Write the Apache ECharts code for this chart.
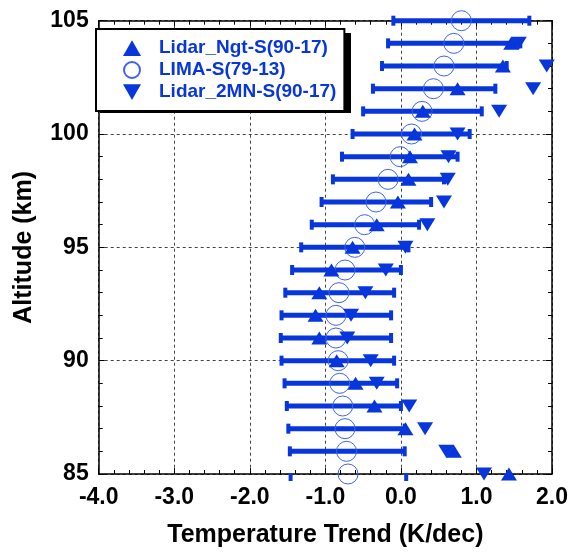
<!DOCTYPE html>
<html>
<head>
<meta charset="utf-8">
<script src="https://cdn.jsdelivr.net/npm/echarts@6/dist/echarts.min.js"></script>
<style>
html,body{margin:0;padding:0;background:#fff;}
#c{width:571px;height:554px;}
</style>
</head>
<body>
<div id="c"></div>
<script>
// ---- data ----
const altitudes = [105,104,103,102,101,100,99,98,97,96,95,94,93,92,91,90,89,88,87,86,85];
const limaTrend = [0.80,0.70,0.57,0.43,0.28,0.14,-0.01,-0.17,-0.33,-0.48,-0.61,-0.74,-0.82,-0.86,-0.86,-0.83,-0.81,-0.77,-0.74,-0.72,-0.70];
const limaLow   = [-0.10,-0.17,-0.25,-0.37,-0.50,-0.64,-0.78,-0.90,-1.05,-1.18,-1.32,-1.44,-1.53,-1.58,-1.59,-1.58,-1.54,-1.51,-1.49,-1.47,-1.46];
const limaHigh  = [1.70,1.58,1.40,1.25,1.07,0.91,0.75,0.57,0.40,0.24,0.10,0.00,-0.09,-0.13,-0.13,-0.09,-0.05,0.00,0.05,0.05,0.07];
const ngtTrend  = [null,1.46,1.35,0.75,0.29,0.18,0.12,0.10,-0.04,-0.32,-0.64,-0.92,-1.08,-1.13,-1.08,-0.85,-0.60,-0.35,0.06,0.70,1.43];
const mnTrend   = [null,1.56,1.93,1.75,1.30,0.75,0.63,0.62,0.57,0.35,0.06,-0.20,-0.47,-0.66,-0.71,-0.40,-0.32,0.11,0.32,0.60,1.10];
const seriesNames = ['Lidar_Ngt-S(90-17)','LIMA-S(79-13)','Lidar_2MN-S(90-17)'];
const xTitle = 'Temperature Trend (K/dec)';
const yTitle = 'Altitude (km)';

const BLUE = '#0636dc';
const FONT = '"Liberation Sans", Arial, Helvetica, sans-serif';

const pairs = (xs) => xs.map((v,i) => v === null ? null : [v, altitudes[i]]).filter(d => d);
const errData = altitudes.map((a,i) => [limaLow[i], limaHigh[i], a]);

const chart = echarts.init(document.getElementById('c'));

const axisCommon = {
  axisLine: {show: true, onZero: false, lineStyle: {color: '#000', width: 1.5}},
  axisTick: {show: true, inside: true, length: 6, lineStyle: {color: '#000', width: 1}},
  minorTick: {show: true, splitNumber: 5, length: 4, lineStyle: {color: '#000', width: 1}},
};

const TRI_UP = 'path://M8,0 L16,14 L0,14 Z';
const TRI_DOWN = 'path://M0,0 L16,0 L8,14 Z';

chart.setOption({
  animation: false,
  backgroundColor: '#fff',
  grid: {left: 98.7, right: 16.3, top: 20.7, bottom: 80},
  xAxis: [
    Object.assign({
      type: 'value', min: -4, max: 2, interval: 1, position: 'bottom',
      axisLabel: {formatter: v => v.toFixed(1), color: '#000', fontFamily: FONT, fontWeight: 'bold', fontSize: 23, margin: 12},
      splitLine: {show: true, lineStyle: {color: '#444', width: 1, type: [3,3]}},
      name: xTitle, nameLocation: 'middle', nameGap: 49,
      nameTextStyle: {color: '#000', fontFamily: FONT, fontWeight: 'bold', fontSize: 25}
    }, axisCommon),
    Object.assign({
      type: 'value', min: -4, max: 2, interval: 1, position: 'top',
      axisLabel: {show: false}, splitLine: {show: false}
    }, axisCommon)
  ],
  yAxis: [
    Object.assign({
      type: 'value', min: 85, max: 105, interval: 5, position: 'left',
      axisLabel: {color: '#000', fontFamily: FONT, fontWeight: 'bold', fontSize: 23, margin: 10},
      splitLine: {show: true, lineStyle: {color: '#444', width: 1, type: [3,3]}},
      name: yTitle, nameLocation: 'middle', nameGap: 62, nameRotate: 90,
      nameTextStyle: {color: '#000', fontFamily: FONT, fontWeight: 'bold', fontSize: 25}
    }, axisCommon),
    Object.assign({
      type: 'value', min: 85, max: 105, interval: 5, position: 'right',
      axisLabel: {show: false}, splitLine: {show: false}
    }, axisCommon)
  ],
  graphic: [
    {type: 'rect', z: 3, left: 100, top: 33, shape: {width: 251, height: 80}, style: {fill: '#000'}}
  ],
  legend: {
    left: 96, top: 29, orient: 'vertical', z: 6,
    data: [
      {name: seriesNames[0], icon: TRI_UP},
      {name: seriesNames[1]},
      {name: seriesNames[2], icon: TRI_DOWN}
    ],
    itemWidth: 18, itemHeight: 16, itemGap: 2,
    padding: [9, 8, 9, 27],
    backgroundColor: '#fff', borderColor: '#000', borderWidth: 2,
    textStyle: {color: BLUE, fontFamily: FONT, fontWeight: 'bold', fontSize: 19, lineHeight: 20, padding: [0,0,0,13]}
  },
  series: [
    {
      type: 'custom', name: 'err', xAxisIndex: 0, yAxisIndex: 0,
      data: errData, z: 2,
      renderItem: function (params, api) {
        const lo = api.coord([api.value(0), api.value(2)]);
        const hi = api.coord([api.value(1), api.value(2)]);
        const cs = params.coordSys;
        const children = [];
        const onEdge = Math.abs(lo[1] - (cs.y + cs.height)) < 1;
        if (!onEdge) {
          children.push({type: 'line', shape: {x1: lo[0], y1: lo[1], x2: hi[0], y2: hi[1]},
            style: {stroke: BLUE, lineWidth: 5}});
        }
        const capW = 4, capH = 10;
        const capY = onEdge ? lo[1] - 1 : lo[1] - capH/2;
        const ch = onEdge ? 8 : capH;
        children.push({type: 'rect', shape: {x: lo[0] - capW/2, y: capY, width: capW, height: ch}, style: {fill: BLUE}});
        children.push({type: 'rect', shape: {x: hi[0] - capW/2, y: capY, width: capW, height: ch}, style: {fill: BLUE}});
        return {type: 'group', children: children};
      }
    },
    {
      type: 'scatter', name: seriesNames[1], data: pairs(limaTrend), z: 3,
      symbol: 'circle', symbolSize: 20,
      itemStyle: {color: 'rgba(255,255,255,0)', borderColor: '#3f62f2', borderWidth: 1, opacity: 1}
    },
    {
      type: 'scatter', name: seriesNames[0], data: pairs(ngtTrend), z: 4,
      symbol: 'triangle', symbolSize: [16, 13],
      itemStyle: {color: BLUE, opacity: 1}
    },
    {
      type: 'scatter', name: seriesNames[2], data: pairs(mnTrend), z: 4,
      symbol: 'triangle', symbolSize: [16, 13], symbolRotate: 180,
      itemStyle: {color: BLUE, opacity: 1}
    }
  ]
});
</script>
</body>
</html>
